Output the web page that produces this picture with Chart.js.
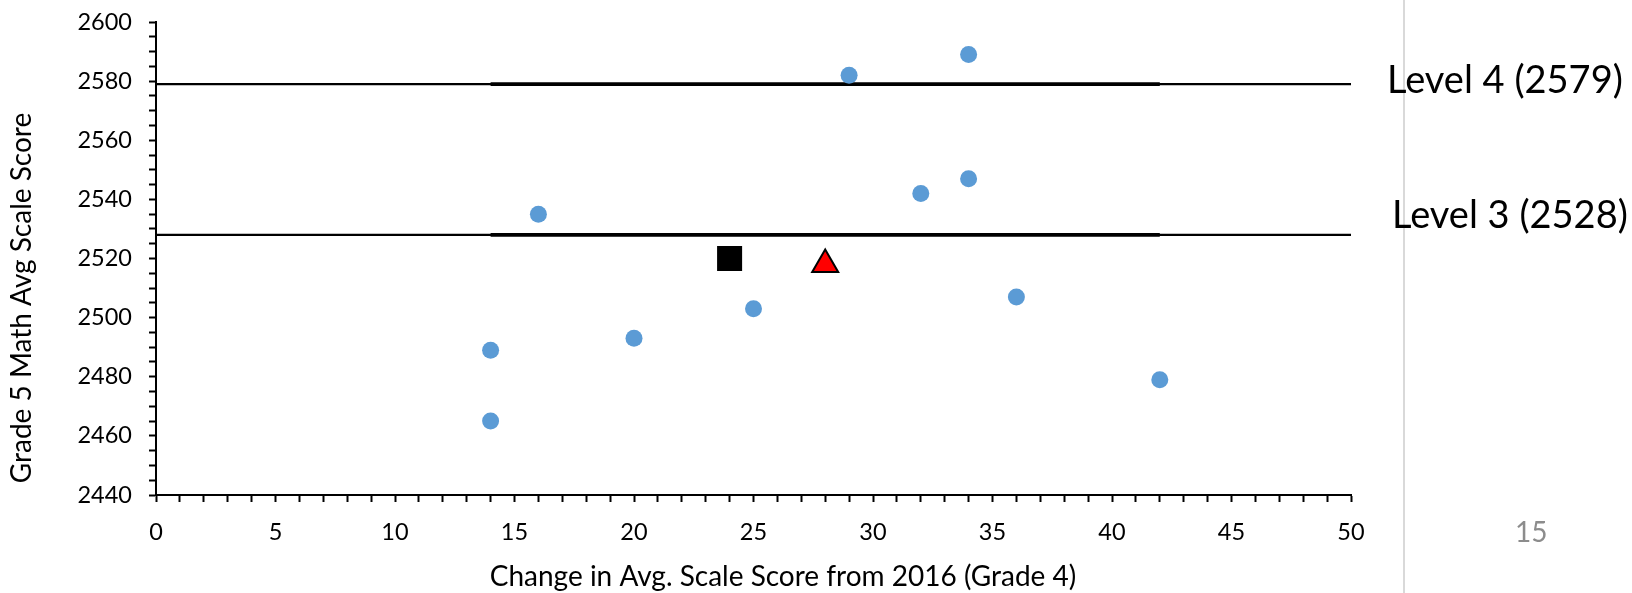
<!DOCTYPE html>
<html>
<head>
<meta charset="utf-8">
<script src="https://cdn.jsdelivr.net/npm/chart.js@4/dist/chart.umd.min.js"></script>
<style>
  html, body { margin: 0; padding: 0; background: #ffffff; }
  #wrap { width: 1632px; height: 593px; }
</style>
</head>
<body>
<div id="wrap"><canvas id="c" width="1632" height="593"></canvas></div>
<script>
// ---- data ----
const districtX = [14, 14, 16, 20, 25, 29, 32, 34, 34, 36, 42];
const districtY = [2489, 2465, 2535, 2493, 2503, 2582, 2542, 2589, 2547, 2507, 2479];
const squareX = [24];
const squareY = [2520];
const triangleX = [28];
const triangleY = [2518];
const levelNames = ['Level 4', 'Level 3'];
const levelScores = [2579, 2528];
const levelSpanFull = [0, 50];
const levelSpanData = [14, 42];
const xTicks = [0, 5, 10, 15, 20, 25, 30, 35, 40, 45, 50];
const yTicks = [2440, 2460, 2480, 2500, 2520, 2540, 2560, 2580, 2600];
const xTitle = 'Change in Avg. Scale Score from 2016 (Grade 4)';
const yTitle = 'Grade 5 Math Avg Scale Score';
const pageNumber = '15';

const FONT = 'Lato, "Open Sans", sans-serif';

function pts(xs, ys) { return xs.map((x, i) => ({ x: x, y: ys[i] })); }

const datasets = [
  { label: 'Districts', data: pts(districtX, districtY), pointStyle: 'circle',
    pointRadius: 8.5, pointHoverRadius: 8.5, backgroundColor: '#5B9BD5', borderWidth: 0, showLine: false },
  { label: 'Square', data: pts(squareX, squareY), pointStyle: 'rect',
    pointRadius: 17.7, pointHoverRadius: 17.7, backgroundColor: '#000000', borderWidth: 0, showLine: false },
  { label: 'Triangle', data: pts(triangleX, triangleY), pointStyle: 'triangle',
    pointRadius: 15, pointHoverRadius: 15, backgroundColor: '#FF0000', borderColor: '#000000', borderWidth: 2, showLine: false }
];
levelScores.forEach((s, i) => {
  datasets.push({ label: levelNames[i] + ' data', data: levelSpanData.map(x => ({ x: x, y: s })),
    showLine: true, borderColor: '#000000', borderWidth: 3.6, pointRadius: 0, fill: false });
  datasets.push({ label: levelNames[i] + ' full', data: levelSpanFull.map(x => ({ x: x, y: s })),
    showLine: true, borderColor: '#000000', borderWidth: 2.4, pointRadius: 0, fill: false });
});

const labelOffsets = [9.4, -6.5];

const textPlugin = {
  id: 'textPlugin',
  beforeDraw(chart) {
    const ctx = chart.ctx;
    ctx.save();
    ctx.strokeStyle = '#d9d9d9';
    ctx.lineWidth = 2;
    ctx.beginPath(); ctx.moveTo(1404, 0); ctx.lineTo(1404, 593); ctx.stroke();
    ctx.restore();
  },
  afterDraw(chart) {
    const ctx = chart.ctx;
    const ys = chart.scales.y;
    ctx.save();
    ctx.fillStyle = '#000000';
    ctx.font = '38px ' + FONT;
    ctx.textAlign = 'left';
    ctx.textBaseline = 'alphabetic';
    const labelX = [1387, 1392];
    levelScores.forEach((s, i) => {
      const y = ys.getPixelForValue(s);
      ctx.fillText(levelNames[i] + ' (' + s + ')', labelX[i], y + labelOffsets[i]);
    });
    ctx.font = '28px ' + FONT;
    ctx.textAlign = 'center';
    ctx.textBaseline = 'middle';
    ctx.fillText(xTitle, 783, 577);
    ctx.save();
    ctx.translate(22, 298);
    ctx.rotate(-Math.PI / 2);
    ctx.font = '28px ' + FONT;
    ctx.fillText(yTitle, 0, 0);
    ctx.restore();
    ctx.fillStyle = '#8c8c8c';
    ctx.font = '28px ' + FONT;
    ctx.textAlign = 'left';
    ctx.textBaseline = 'alphabetic';
    ctx.fillText(pageNumber, 1515, 542);
    ctx.restore();
  }
};

function draw() {
  Chart.defaults.font.family = FONT;
  Chart.defaults.color = '#000000';
  new Chart(document.getElementById('c'), {
    type: 'scatter',
    data: { datasets: datasets },
    options: {
      responsive: false,
      animation: false,
      events: [],
      layout: { padding: { top: 22, right: 281, left: 0, bottom: 0 } },
      plugins: { legend: { display: false }, tooltip: { enabled: false } },
      scales: {
        x: {
          type: 'linear', min: 0, max: 50,
          afterFit(scale) { scale.height = 98; scale.paddingLeft = 0; scale.paddingRight = 0; },
          afterBuildTicks(scale) {
            const t = [];
            for (let v = xTicks[0]; v <= xTicks[xTicks.length - 1]; v += 1) t.push({ value: v });
            scale.ticks = t;
          },
          ticks: {
            autoSkip: false, maxRotation: 0, padding: 16,
            font: { size: 23.5 },
            callback: v => (xTicks.includes(v) ? String(v) : '')
          },
          grid: { drawOnChartArea: false, drawTicks: true, tickLength: 7, tickColor: '#000000', tickWidth: 2 },
          border: { display: true, color: '#000000', width: 2 }
        },
        y: {
          type: 'linear', min: 2440, max: 2600,
          afterFit(scale) { scale.width = 156; scale.paddingTop = 0; scale.paddingBottom = 0; },
          afterBuildTicks(scale) {
            const t = [];
            for (let v = yTicks[0]; v <= yTicks[yTicks.length - 1]; v += 5) t.push({ value: v });
            scale.ticks = t;
          },
          ticks: {
            autoSkip: false, padding: 17,
            font: { size: 23.5 },
            callback: v => (yTicks.includes(v) ? String(v) : '')
          },
          grid: { drawOnChartArea: false, drawTicks: true, tickLength: 7, tickColor: '#000000', tickWidth: 2 },
          border: { display: true, color: '#000000', width: 2 }
        }
      }
    },
    plugins: [textPlugin]
  });
}

if (document.fonts && document.fonts.load) {
  document.fonts.load('22px Lato').then(draw, draw);
} else {
  draw();
}
</script>
</body>
</html>
